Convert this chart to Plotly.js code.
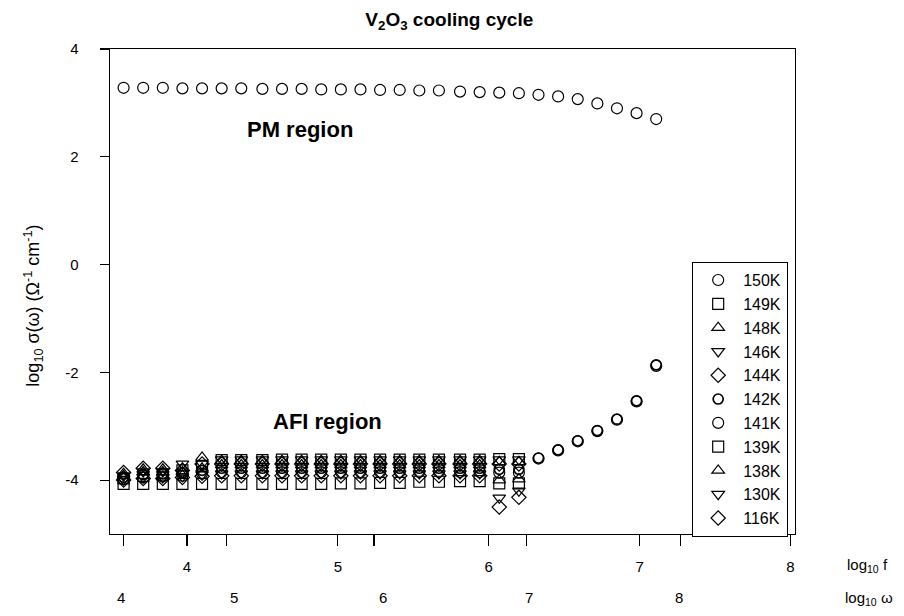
<!DOCTYPE html>
<html>
<head>
<meta charset="utf-8">
<script src="https://cdn.plot.ly/plotly-3.0.1.min.js"></script>
<style>html,body{margin:0;padding:0;background:#fff;}#chart{width:904px;height:616px;}</style>
</head>
<body>
<div id="chart"></div>
<script>
// log10 f positions of the measured frequencies
const logF = [3.58,3.71,3.84,3.97,4.10,4.23,4.36,4.50,4.63,4.76,4.89,5.02,5.15,5.28,5.41,5.54,5.67,5.81,5.94,6.07,6.20,6.33,6.46,6.59,6.72,6.85,6.98,7.11];

const temps = ['150K','149K','148K','146K','144K','142K','141K','139K','138K','130K','116K'];
const symbols = ['circle-open','square-open','triangle-up-open','triangle-down-open','diamond-open','circle-open','circle-open','square-open','triangle-up-open','triangle-down-open','diamond-open'];

// log10 sigma values per temperature
const s150 = [3.28,3.28,3.28,3.27,3.27,3.27,3.27,3.26,3.26,3.26,3.25,3.25,3.25,3.24,3.24,3.23,3.23,3.21,3.20,3.19,3.18,3.15,3.12,3.07,2.99,2.90,2.81,2.70];
const s149 = [-3.97,-3.92,-3.90,-3.82,-3.74,-3.63,-3.63,-3.63,-3.62,-3.62,-3.62,-3.62,-3.62,-3.62,-3.62,-3.62,-3.62,-3.62,-3.62,-3.61,-3.61];
const s148 = [-3.88,-3.80,-3.80,-3.78,-3.58,-3.64,-3.64,-3.64,-3.64,-3.64,-3.64,-3.64,-3.64,-3.64,-3.64,-3.64,-3.64,-3.64,-3.64,-3.66,-3.66];
const s146 = [-3.92,-3.84,-3.84,-3.70,-3.70,-3.62,-3.62,-3.62,-3.62,-3.62,-3.62,-3.62,-3.62,-3.62,-3.62,-3.62,-3.62,-3.62,-3.62,-3.62,-3.62];
const s144 = [-3.86,-3.78,-3.78,-3.82,-3.70,-3.70,-3.70,-3.70,-3.70,-3.70,-3.70,-3.70,-3.70,-3.70,-3.70,-3.70,-3.70,-3.70,-3.70,-3.70,-3.70];
const s142 = [-3.95,-3.90,-3.88,-3.87,-3.82,-3.78,-3.78,-3.78,-3.78,-3.78,-3.78,-3.78,-3.78,-3.78,-3.78,-3.78,-3.78,-3.78,-3.78,-3.80,-3.80,-3.59,-3.44,-3.27,-3.08,-2.87,-2.53,-1.86];
const s141 = [-3.98,-3.95,-3.93,-3.92,-3.88,-3.85,-3.85,-3.85,-3.85,-3.85,-3.85,-3.85,-3.85,-3.85,-3.85,-3.85,-3.85,-3.85,-3.85,-3.86,-3.86,-3.60,-3.45,-3.28,-3.09,-2.88,-2.54,-1.88];
const s139 = [-4.07,-4.07,-4.07,-4.07,-4.07,-4.07,-4.07,-4.07,-4.07,-4.07,-4.07,-4.06,-4.06,-4.05,-4.05,-4.03,-4.03,-4.02,-4.02,-4.06,-4.06];
const s138 = [-3.92,-3.85,-3.85,-3.85,-3.78,-3.72,-3.72,-3.72,-3.72,-3.72,-3.72,-3.72,-3.72,-3.72,-3.72,-3.72,-3.72,-3.72,-3.72,-4.00,-3.98];
const s130 = [-3.99,-3.95,-3.95,-3.93,-3.90,-3.88,-3.88,-3.88,-3.88,-3.88,-3.88,-3.88,-3.88,-3.88,-3.88,-3.88,-3.88,-3.88,-3.88,-4.33,-4.20];
const s116 = [-4.00,-3.97,-3.97,-3.95,-3.93,-3.92,-3.92,-3.92,-3.92,-3.92,-3.92,-3.92,-3.92,-3.92,-3.92,-3.92,-3.92,-3.92,-3.92,-4.50,-4.32];
const series = [s150,s149,s148,s146,s144,s142,s141,s139,s138,s130,s116];

// axis ticks
const yTicks = [-4,-2,0,2,4];
const yTickText = ['-4','-2','0','2','4'];
const fTickVals = [4,5,6,7,8];
const fTickText = ['4','5','6','7','8'];
const extraTickVals = [3.58,4.26,5.24,6.25,7.27];
const omegaLabelPos = [3.56,4.31,5.30,6.27,7.26];
const omegaLabels = ['4','5','6','7','8'];

const FONT = 'Liberation Sans, Arial, Helvetica, sans-serif';

const traces = series.map((ys, k) => ({
  type: 'scatter', mode: 'markers', name: temps[k],
  x: logF.slice(0, ys.length), y: ys,
  marker: {symbol: symbols[k], size: (k === 5 ? 10 : 11), color: '#000',
           line: {color: '#000', width: (k === 5 ? 1.7 : 1.2)}},
  cliponaxis: false
}));

const annotations = [
  {text: '<b>PM region</b>', xref: 'x', yref: 'y', x: 4.75, y: 2.5, showarrow: false, font: {family: FONT, size: 22}},
  {text: '<b>AFI region</b>', xref: 'x', yref: 'y', x: 4.93, y: -2.92, showarrow: false, font: {family: FONT, size: 22}},
  {text: 'log<sub>10</sub> σ(ω) (Ω<sup>-1</sup> cm<sup>-1</sup>)', xref: 'paper', yref: 'paper', x: -0.113, y: 0.47,
   xanchor: 'center', yanchor: 'middle', textangle: -90, showarrow: false, font: {family: FONT, size: 18}},
  {text: 'log<sub>10</sub> f', xref: 'paper', yref: 'paper', x: 1.106, y: -0.064, xanchor: 'center', yanchor: 'middle', showarrow: false, font: {family: FONT, size: 15}},
  {text: 'log<sub>10</sub> ω', xref: 'paper', yref: 'paper', x: 1.108, y: -0.134, xanchor: 'center', yanchor: 'middle', showarrow: false, font: {family: FONT, size: 15}}
].concat(omegaLabelPos.map((p, i) => ({
  text: omegaLabels[i], xref: 'x', yref: 'paper', x: p, y: -0.130, xanchor: 'center', yanchor: 'middle',
  showarrow: false, font: {family: FONT, size: 15}
})));

const layout = {
  width: 904, height: 616,
  paper_bgcolor: '#fff', plot_bgcolor: '#fff',
  margin: {l: 110, r: 109, t: 49, b: 82},
  font: {family: FONT, color: '#000', size: 15},
  title: {text: '<b>V<sub>2</sub>O<sub>3</sub> cooling cycle</b>', x: 0.497, xanchor: 'center', y: 0.968, yanchor: 'middle',
          font: {family: FONT, size: 19, color: '#000'}},
  xaxis: {range: [3.49, 8.03], showgrid: false, zeroline: false,
          tickvals: fTickVals.concat(extraTickVals), ticktext: fTickText.concat(extraTickVals.map(() => '')),
          ticks: 'outside', ticklen: 11, tickwidth: 1.2, tickcolor: '#000',
          showline: true, linecolor: '#000', linewidth: 1.3, mirror: true,
          ticklabelstandoff: 8, tickfont: {family: FONT, size: 15}},
  yaxis: {range: [-5, 4], showgrid: false, zeroline: false, tickvals: yTicks, ticktext: yTickText,
          ticks: 'outside', ticklen: 9, tickwidth: 1.2, tickcolor: '#000',
          showline: true, linecolor: '#000', linewidth: 1.3, mirror: true,
          ticklabelstandoff: 18, tickfont: {family: FONT, size: 15}},
  showlegend: true,
  legend: {x: 0.8496, xanchor: 'left', y: 0.561, yanchor: 'top', bgcolor: '#fff',
           bordercolor: '#000', borderwidth: 1.2, font: {family: FONT, size: 16},
           itemwidth: 40, entrywidth: 100, entrywidthmode: 'pixels'},
  annotations: annotations
};

Plotly.newPlot('chart', traces, layout, {displayModeBar: false, staticPlot: true});
</script>
</body>
</html>
